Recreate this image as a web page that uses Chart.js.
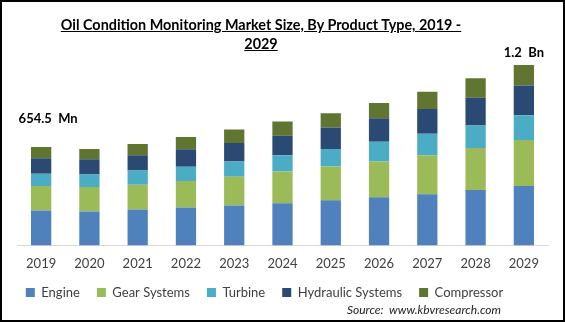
<!DOCTYPE html>
<html>
<head>
<meta charset="utf-8">
<script src="https://cdn.jsdelivr.net/npm/chart.js@4.4.1/dist/chart.umd.min.js"></script>
<style>
  html, body { margin: 0; padding: 0; background: #fff; }
  #wrap { position: relative; width: 565px; height: 322px; overflow: hidden; }
  #frame { position: absolute; left: 0; top: 0; width: 565px; height: 322px; box-sizing: border-box; border: 2px solid #000; pointer-events: none; }
  #title { position: absolute; left: 40px; width: 442px; top: 15px; text-align: center; font-family: Lato, sans-serif; font-weight: bold; font-size: 14.4px; line-height: 19px; color: #000; text-decoration: underline; }
  #source { position: absolute; right: 64px; top: 302px; font-family: Lato, sans-serif; font-style: italic; font-size: 12px; color: #222; }
</style>
</head>
<body>
<div id="wrap">
  <canvas id="chart" width="565" height="322"></canvas>
  <div id="title">Oil Condition Monitoring Market Size, By Product Type, 2019 -<br>2029</div>
  <div id="source">Source:&nbsp; www.kbvresearch.com</div>
  <div id="frame"></div>
</div>
<script>
// years on the x axis
const years = ["2019","2020","2021","2022","2023","2024","2025","2026","2027","2028","2029"];

// market size by product type, USD Mn
const engine     = [231.5, 225, 239, 252, 266, 280, 300, 320, 341, 368, 395];
const gear       = [164, 164, 164, 177, 191, 211, 225, 239, 259, 280, 307];
const turbine    = [82, 82, 95, 95, 102, 109, 116, 130, 143, 150, 164];
const hydraulic  = [102, 102, 102, 116, 123, 130, 143, 157, 164, 184, 198];
const compressor = [75, 68, 75, 82, 89, 95, 95, 102, 116, 130, 136];

// total labels shown above two bars
const totalIdx  = [0, 10];
const totalText = ["654.5  Mn", "1.2  Bn"];

const colors = ["#4f81bd", "#9bbb59", "#4bacc6", "#2a4a74", "#5f7530"];

const totalLabels = {
    id: "totalLabels",
    beforeDraw(chart) {
        // legend sits a bit left of centre in the original
        chart.legend.left -= 18;
        chart.legend.right -= 18;
    },
    afterDatasetsDraw(chart) {
        const ctx = chart.ctx;
        const meta = chart.getDatasetMeta(chart.data.datasets.length - 1);
        ctx.save();
        ctx.font = "bold 13px Lato, sans-serif";
        ctx.fillStyle = "#000";
        ctx.textAlign = "center";
        ctx.textBaseline = "bottom";
        totalIdx.forEach((i, k) => {
            const bar = meta.data[i];
            const dy = i === 0 ? 22 : 6;
            const dx = i === 0 ? 7 : 0;
            ctx.fillText(totalText[k], bar.x + dx, bar.y - dy);
        });
        ctx.restore();
    }
};

new Chart(document.getElementById("chart"), {
    type: "bar",
    data: {
        labels: years,
        datasets: [
            { label: "Engine", data: engine, backgroundColor: colors[0] },
            { label: "Gear Systems", data: gear, backgroundColor: colors[1] },
            { label: "Turbine", data: turbine, backgroundColor: colors[2] },
            { label: "Hydraulic Systems", data: hydraulic, backgroundColor: colors[3] },
            { label: "Compressor", data: compressor, backgroundColor: colors[4] }
        ]
    },
    options: {
        responsive: false,
        animation: false,
        datasets: { bar: { barPercentage: 0.42, categoryPercentage: 1 } },
        layout: { padding: { left: 17, right: 17, top: 50, bottom: 13 } },
        scales: {
            x: {
                stacked: true,
                grid: { display: false },
                border: { color: "#d9d9d9" },
                ticks: { color: "#404040", font: { family: "Lato", size: 13 }, padding: 3 },
                afterFit(scale) { scale.height -= 6; }
            },
            y: { stacked: true, display: false, min: 0, max: 1300 }
        },
        plugins: {
            legend: {
                position: "bottom",
                labels: {
                    boxWidth: 9, boxHeight: 9, padding: 17,
                    color: "#404040",
                    font: { family: "Lato", size: 13 }
                }
            },
            tooltip: { enabled: false }
        }
    },
    plugins: [totalLabels]
});
</script>
</body>
</html>
